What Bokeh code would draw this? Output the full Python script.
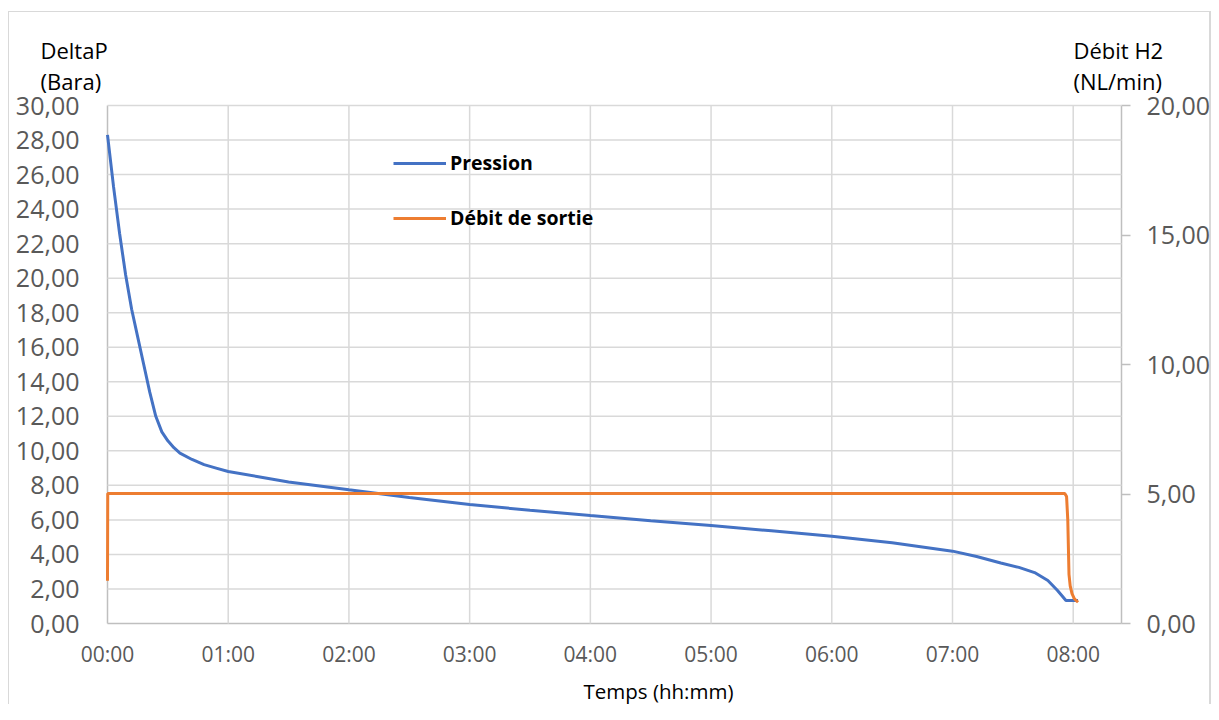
from bokeh.plotting import figure
from bokeh.models import (Range1d, LinearAxis, FixedTicker, Legend, LegendItem, Label)
from bokeh.embed import file_html
from bokeh.resources import INLINE

# ---- data (time in hours) ----
time_p = [0, 0.05, 0.1, 0.15, 0.2, 0.25, 0.3, 0.35, 0.4, 0.45, 0.5, 0.55, 0.6, 0.7,
          0.8, 0.9, 1.0, 1.25, 1.5, 2.0, 2.5, 3.0, 3.5, 4.0, 4.5, 5.0, 5.5, 6.0, 6.5,
          7.0, 7.2, 7.4, 7.55, 7.68, 7.79, 7.87, 7.94, 8.04]
pression = [28.3, 25.3, 22.6, 20.2, 18.2, 16.6, 15.0, 13.4, 12.0, 11.1, 10.58, 10.18,
            9.87, 9.5, 9.2, 9.0, 8.8, 8.5, 8.2, 7.74, 7.3, 6.89, 6.56, 6.25, 5.95,
            5.67, 5.37, 5.05, 4.68, 4.19, 3.88, 3.5, 3.25, 2.95, 2.49, 1.91, 1.33, 1.33]

time_d = [0, 0.002, 7.93, 7.945, 7.955, 7.965, 7.975, 7.99, 8.01, 8.04]
debit = [1.65, 5.02, 5.02, 4.9, 4.0, 1.9, 1.45, 1.15, 0.95, 0.82]

hour_ticks = [0, 1, 2, 3, 4, 5, 6, 7, 8]
hour_labels = ["00:00", "01:00", "02:00", "03:00", "04:00", "05:00", "06:00", "07:00", "08:00"]
left_ticks = [0, 2, 4, 6, 8, 10, 12, 14, 16, 18, 20, 22, 24, 26, 28, 30]
right_ticks = [0, 5, 10, 15, 20]

X_MAX, Y_MAX, R_MAX = 8.4, 30, 20

# ---- layout (pixels) ----
W, H = 1211, 704
PL, PR, PT, PB = 107, 1121, 105, 623   # plot area edges

FONT = "Open Sans"
GRID = "#d9d9d9"
AXIS = "#bfbfbf"
TICKC = "#595959"

# ranges so that the data area maps onto the plot-area pixels of a full-canvas frame
kx = (PR - PL) / X_MAX
ky = (PB - PT) / Y_MAX
kr = (PB - PT) / R_MAX
x_range = Range1d(-PL / kx, X_MAX + (W - PR) / kx)
y_range = Range1d(-(H - PB) / ky, Y_MAX + PT / ky)
r_range = Range1d(-(H - PB) / kr, R_MAX + PT / kr)

p = figure(width=W, height=H, output_backend="svg", toolbar_location=None,
           x_range=x_range, y_range=y_range,
           x_axis_location=None, y_axis_location=None,
           min_border=0, min_border_left=0, min_border_right=0,
           min_border_top=0, min_border_bottom=0,
           border_fill_color=None, background_fill_color=None, outline_line_color=None)
p.styles = {"box-shadow": ("inset 8px 11px 0 0 white, inset 9px 12px 0 0 #d9d9d9, "
                           "inset -2px 0 0 0 #d9d9d9")}
p.extra_y_ranges = {"right": r_range}
# no automatic full-width grids
p.renderers = [r for r in p.renderers if r.__class__.__name__ != "Grid"]
p.center = [r for r in p.center if r.__class__.__name__ != "Grid"]

# gridlines from the tick lists, limited to the plot area
p.segment(x0=hour_ticks[1:], y0=0, x1=hour_ticks[1:], y1=Y_MAX,
          line_color=GRID, line_width=1.5)
p.segment(x0=0, y0=left_ticks[1:], x1=X_MAX, y1=left_ticks[1:],
          line_color=GRID, line_width=1.5)

def style_axis(ax, size, standoff, tick_out=0):
    ax.major_tick_out = tick_out
    ax.major_tick_in = 0
    ax.minor_tick_out = 0
    ax.minor_tick_in = 0
    ax.major_tick_line_color = AXIS
    ax.major_tick_line_width = 1.5
    ax.major_label_standoff = standoff
    ax.major_label_text_font = FONT
    ax.major_label_text_font_size = size
    ax.major_label_text_color = TICKC
    ax.axis_line_color = AXIS
    ax.axis_line_width = 1.5
    ax.level = "underlay"

# bottom axis
xa = LinearAxis(fixed_location=0, bounds=(0, X_MAX), ticker=FixedTicker(ticks=hour_ticks))
xa.major_label_overrides = {t: l for t, l in zip(hour_ticks, hour_labels)}
style_axis(xa, "21px", 16)
p.add_layout(xa, "below")

# left axis
ya = LinearAxis(fixed_location=0, bounds=(0, Y_MAX), ticker=FixedTicker(ticks=left_ticks))
ya.major_label_overrides = {t: f"{t:.2f}".replace(".", ",") for t in left_ticks}
style_axis(ya, "25px", 28)
p.add_layout(ya, "left")

# right axis
ra = LinearAxis(y_range_name="right", fixed_location=X_MAX, bounds=(0, R_MAX),
                ticker=FixedTicker(ticks=right_ticks))
ra.major_label_overrides = {t: f"{t:.2f}".replace(".", ",") for t in right_ticks}
style_axis(ra, "25px", 16, tick_out=9)
ra.major_label_text_align = "left"
p.add_layout(ra, "right")

# series
r1 = p.line(time_p, pression, line_color="#4472C4", line_width=3)
r2 = p.line(time_d, debit, line_color="#ED7D31", line_width=3, y_range_name="right")

legend = Legend(items=[LegendItem(label="Pression", renderers=[r1]),
                       LegendItem(label="Débit de sortie", renderers=[r2])],
                location=(393, 473), orientation="vertical",
                glyph_width=53, glyph_height=20, label_height=20, label_standoff=4,
                spacing=28, padding=0, margin=0,
                border_line_color=None, background_fill_alpha=0,
                label_text_font=FONT, label_text_font_style="bold",
                label_text_font_size="19.5px", label_text_color="black")
p.add_layout(legend, "center")

# axis titles (screen units: frame == canvas, y measured upward from the bottom)
def add_title(text, x, y_top, size="22px"):
    p.add_layout(Label(x=x, y=H - y_top, x_units="screen", y_units="screen", text=text,
                       text_font=FONT, text_font_size=size, text_color="black",
                       text_baseline="alphabetic", text_align="left"))

add_title("DeltaP", 40, 49)
add_title("(Bara)", 40, 80)
add_title("Débit H2", 1073, 49)
add_title("(NL/min)", 1073, 80)
add_title("Temps (hh:mm)", 583, 690, size="20.5px")

open("out.html", "w").write(file_html(p, INLINE))
